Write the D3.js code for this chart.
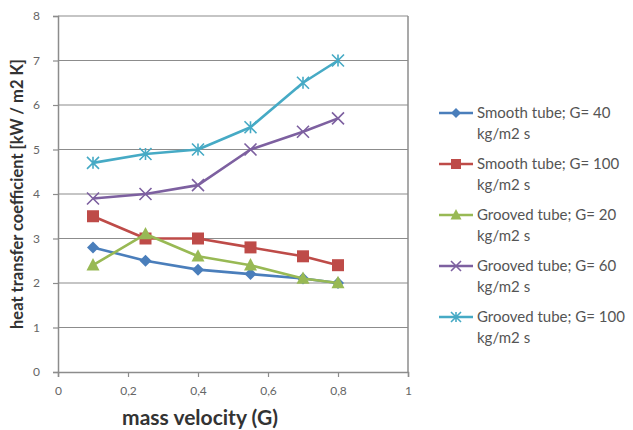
<!DOCTYPE html>
<html><head><meta charset="utf-8">
<script src="https://cdn.jsdelivr.net/npm/d3@7/dist/d3.min.js"></script>
<style>body{margin:0;background:#fff;} svg{display:block;}</style>
</head><body>
<svg id="chart" width="633" height="430"></svg>
<script>
const xValues = [0.1, 0.25, 0.4, 0.55, 0.7, 0.8];
const smooth40 = [2.8, 2.5, 2.3, 2.2, 2.1, 2.0];
const smooth100 = [3.5, 3.0, 3.0, 2.8, 2.6, 2.4];
const grooved20 = [2.4, 3.1, 2.6, 2.4, 2.1, 2.0];
const grooved60 = [3.9, 4.0, 4.2, 5.0, 5.4, 5.7];
const grooved100 = [4.7, 4.9, 5.0, 5.5, 6.5, 7.0];
const seriesNames = ["Smooth tube; G= 40", "Smooth tube; G= 100", "Grooved tube; G= 20", "Grooved tube; G= 60", "Grooved tube; G= 100"];
const seriesUnit = "kg/m2 s";
const xTicks = [0, 0.2, 0.4, 0.6, 0.8, 1];
const yTicks = [0, 1, 2, 3, 4, 5, 6, 7, 8];

const colors = ["#4A7EBB", "#BE4B48", "#98B954", "#7D60A0", "#46AAC5"];
const markers = ["diamond", "square", "triangle", "x", "star"];
const seriesData = [smooth40, smooth100, grooved20, grooved60, grooved100];

const svg = d3.select("#chart");
const x = d3.scaleLinear().domain([0, 1]).range([58, 408]);
const y = d3.scaleLinear().domain([0, 8]).range([372, 16]);
const font = "Lato, 'Open Sans', sans-serif";

// gridlines
svg.append("g").selectAll("line").data(yTicks.filter(d => d > 0)).join("line")
  .attr("x1", x(0)).attr("x2", x(1)).attr("y1", d => y(d)).attr("y2", d => y(d))
  .attr("stroke", "#8c8c8c").attr("stroke-width", 1.2);
// right border
svg.append("line").attr("x1", x(1)).attr("x2", x(1)).attr("y1", y(8)).attr("y2", y(0))
  .attr("stroke", "#8c8c8c").attr("stroke-width", 1.5);

const fmt = d => String(d).replace(".", ",");
const yAxis = svg.append("g").attr("transform", `translate(${x(0)},0)`)
  .call(d3.axisLeft(y).tickValues(yTicks).tickSize(5).tickPadding(13).tickFormat(d => d));
const xAxis = svg.append("g").attr("transform", `translate(0,${y(0)})`)
  .call(d3.axisBottom(x).tickValues(xTicks).tickSize(5).tickPadding(9).tickFormat(fmt));
[yAxis, xAxis].forEach(a => {
  a.select(".domain").attr("stroke", "#8c8c8c").attr("stroke-width", 1.5);
  a.selectAll(".tick line").attr("stroke", "#8c8c8c").attr("stroke-width", 1.2);
  a.selectAll("text").attr("fill", "#666").style("font-family", font).style("font-size", "12px");
});

// axis titles
svg.append("text").attr("x", 200).attr("y", 425).attr("text-anchor", "middle")
  .style("font-family", font).style("font-size", "21px").style("font-weight", "bold").attr("fill", "#333")
  .text("mass velocity (G)");
svg.append("text").attr("transform", "translate(23,194) rotate(-90)").attr("text-anchor", "middle")
  .style("font-family", font).style("font-size", "16.5px").style("font-weight", "bold").attr("fill", "#333")
  .text("heat transfer coefficient [kW / m2 K]");

function drawMarker(g, type, color, cx, cy, s) {
  if (type === "diamond") {
    g.append("path").attr("d", `M${cx},${cy - s}L${cx + s},${cy}L${cx},${cy + s}L${cx - s},${cy}Z`).attr("fill", color);
  } else if (type === "square") {
    g.append("rect").attr("x", cx - s).attr("y", cy - s).attr("width", 2 * s).attr("height", 2 * s).attr("fill", color);
  } else if (type === "triangle") {
    g.append("path").attr("d", `M${cx},${cy - s * 1.1}L${cx + s},${cy + s * 0.8}L${cx - s},${cy + s * 0.8}Z`).attr("fill", color);
  } else if (type === "x") {
    g.append("path").attr("d", `M${cx - s},${cy - s}L${cx + s},${cy + s}M${cx - s},${cy + s}L${cx + s},${cy - s}`).attr("stroke", color).attr("stroke-width", 1.6);
  } else if (type === "star") {
    g.append("path").attr("d", `M${cx - s},${cy - s}L${cx + s},${cy + s}M${cx - s},${cy + s}L${cx + s},${cy - s}M${cx},${cy - s}L${cx},${cy + s}`).attr("stroke", color).attr("stroke-width", 1.6);
  }
}
const markerSize = [6, 6, 6.5, 6, 6];

const line = d3.line().x((d, i) => x(xValues[i])).y(d => y(d));
seriesData.forEach((vals, k) => {
  const g = svg.append("g");
  g.append("path").datum(vals).attr("d", line).attr("fill", "none")
    .attr("stroke", colors[k]).attr("stroke-width", 2.6).attr("stroke-linejoin", "round");
  vals.forEach((v, i) => drawMarker(g, markers[k], colors[k], x(xValues[i]), y(v), markerSize[k]));
});

// legend
const legendY = [113, 164, 215, 266, 317];
seriesNames.forEach((name, k) => {
  const g = svg.append("g");
  const ly = legendY[k];
  g.append("line").attr("x1", 439).attr("x2", 473).attr("y1", ly).attr("y2", ly)
    .attr("stroke", colors[k]).attr("stroke-width", 2.6);
  drawMarker(g, markers[k], colors[k], 456, ly, markerSize[k] - 1);
  g.append("text").attr("x", 477).attr("y", ly + 5).style("font-family", font).style("font-size", "15px").attr("fill", "#555").text(name);
  g.append("text").attr("x", 477).attr("y", ly + 26).style("font-family", font).style("font-size", "15px").attr("fill", "#555").text(seriesUnit);
});
</script>
</body></html>
